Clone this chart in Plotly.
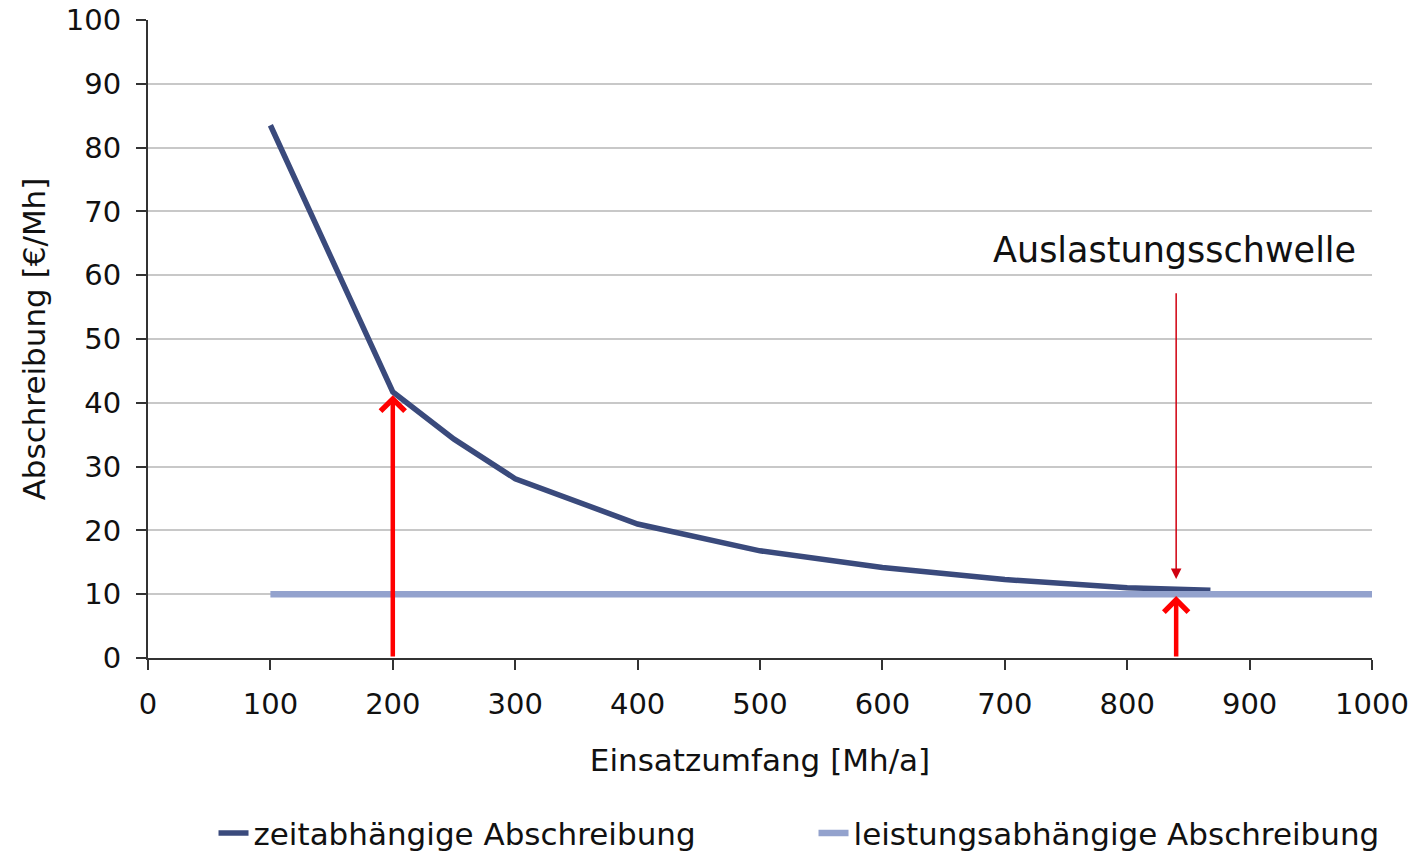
import plotly.graph_objects as go

# Data
zeit_x = [100, 200, 250, 300, 400, 500, 600, 700, 800, 868]
zeit_y = [83.5, 41.7, 34.3, 28.1, 21.0, 16.8, 14.2, 12.3, 11.0, 10.6]
leist_x = [100, 1000]
leist_y = [10, 10]

series_names = ["zeitabhängige Abschreibung", "leistungsabhängige Abschreibung"]

# arrows: (x, y_from, y_to)
arrow_thick = [(200, 0, 41.2), (840, 0, 9.7)]
arrow_thin = [(840, 57.4, 12.4)]
label_text = "Auslastungsschwelle"
label_pos = (839, 64.0)

x_ticks = list(range(0, 1001, 100))
y_ticks = list(range(0, 101, 10))

FONT = "DejaVu Sans"

fig = go.Figure()
fig.add_trace(go.Scatter(x=zeit_x, y=zeit_y, mode="lines", name=series_names[0],
                         line=dict(color="#3a4a7c", width=5.5), cliponaxis=False))
fig.add_trace(go.Scatter(x=leist_x, y=leist_y, mode="lines", name=series_names[1],
                         line=dict(color="#93a2cd", width=6.5), cliponaxis=False))

for (ax_, y0, y1) in arrow_thick:
    fig.add_annotation(x=ax_, y=y1, ax=ax_, ay=y0, xref="x", yref="y", axref="x", ayref="y",
                       text="", showarrow=True, arrowhead=4, arrowsize=1.05,
                       arrowwidth=4.5, arrowcolor="#ff0000")
for (ax_, y0, y1) in arrow_thin:
    fig.add_annotation(x=ax_, y=y1, ax=ax_, ay=y0, xref="x", yref="y", axref="x", ayref="y",
                       text="", showarrow=True, arrowhead=2, arrowsize=1.4,
                       arrowwidth=1.5, arrowcolor="#d00010")

fig.add_annotation(x=label_pos[0], y=label_pos[1], xref="x", yref="y", text=label_text,
                   showarrow=False, font=dict(family=FONT, size=35, color="#111111"))

fig.update_layout(
    width=1414, height=852,
    margin=dict(l=148, r=42, t=20, b=194),
    paper_bgcolor="white", plot_bgcolor="white",
    font=dict(family=FONT, size=29, color="#111111"),
    showlegend=True,
    legend=dict(orientation="h", xref="container", yref="container",
                x=0.151, xanchor="left", y=0.022, yanchor="middle",
                font=dict(family=FONT, size=31, color="#111111"),
                entrywidthmode="pixels", entrywidth=555),
)
fig.update_xaxes(range=[0, 1000], tickvals=x_ticks, ticks="outside", ticklen=10,
                 tickcolor="#333333", tickwidth=2, showline=True, linecolor="#333333",
                 linewidth=2, showgrid=False, zeroline=False, ticklabelstandoff=9,
                 automargin=False,
                 tickfont=dict(family=FONT, size=29),
                 title=dict(text="Einsatzumfang [Mh/a]", font=dict(family=FONT, size=31), standoff=30))
fig.update_yaxes(range=[0, 100], tickvals=y_ticks, ticks="outside", ticklen=10,
                 tickcolor="#333333", tickwidth=2, showline=True, linecolor="#333333",
                 linewidth=2, showgrid=True, gridcolor="#c8c8c8", gridwidth=2, zeroline=False,
                 ticklabelstandoff=9, automargin=False,
                 tickfont=dict(family=FONT, size=29),
                 title=dict(text="Abschreibung [€/Mh]", font=dict(family=FONT, size=31), standoff=11))

fig.write_html("out.html")
